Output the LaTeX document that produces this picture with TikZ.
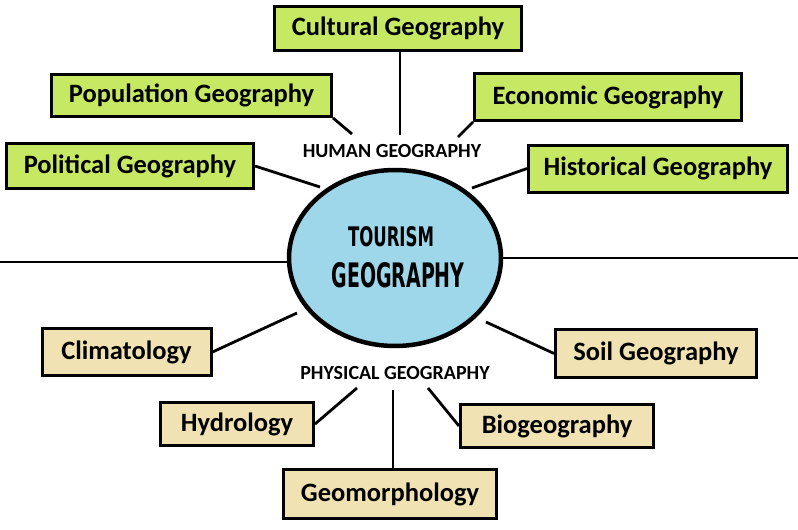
\documentclass[tikz,border=0pt]{standalone}
\usepackage{fontspec}
\setmainfont{Carlito}
\newfontfamily\condfont{DejaVu Sans Condensed}
\usetikzlibrary{shapes.geometric}
\definecolor{humangreen}{RGB}{198,232,98}
\definecolor{phystan}{RGB}{240,226,178}
\definecolor{centreblue}{RGB}{157,215,233}
\tikzset{
  box/.style={draw=black, line width=3pt, inner sep=0pt, align=center,
    font=\fontsize{26.5}{30}\selectfont\bfseries},
  humanbox/.style={box, fill=humangreen},
  physbox/.style={box, fill=phystan},
  link/.style={draw=black, line width=2.8pt},
  grouplabel/.style={font=\fontsize{20}{24}\selectfont\bfseries, inner sep=0pt}
}
\begin{document}
\begin{tikzpicture}[x=1pt,y=-1pt]
\useasboundingbox (0,0) rectangle (798,530);
\fill[white] (0,0) rectangle (798,530);

% centre
\node[ellipse, draw=black, line width=4.5pt, fill=centreblue, minimum width=212pt,
  minimum height=176pt, inner sep=0pt] (ell) at (395,258) {};
\node[inner sep=0pt] (tour) at (391,237) {\resizebox{86pt}{20pt}{\condfont\bfseries TOURISM}};
\node[inner sep=0pt] (geog) at (398,275) {\resizebox{133pt}{25pt}{\condfont\bfseries GEOGRAPHY}};

% group labels
\node[grouplabel] (human) at (392,151) {HUMAN GEOGRAPHY};
\node[grouplabel] (phys) at (395,373) {PHYSICAL GEOGRAPHY};

% human boxes
\node[humanbox, minimum width=247pt, minimum height=44pt] (cult) at (398,28.5) {Cultural Geography};
\node[humanbox, minimum width=280pt, minimum height=42pt] (pop) at (191.5,95.5) {Population Geography};
\node[humanbox, minimum width=267pt, minimum height=47pt] (eco) at (608,97) {Economic Geography};
\node[humanbox, minimum width=247pt, minimum height=45pt] (pol) at (130,166) {Political Geography};
\node[humanbox, minimum width=259pt, minimum height=47pt] (hist) at (658,168.5) {Historical Geography};

% physical boxes
\node[physbox, minimum width=169pt, minimum height=47pt] (clim) at (126.5,352) {Climatology};
\node[physbox, minimum width=201pt, minimum height=48pt] (soil) at (656,353.5) {Soil Geography};
\node[physbox, minimum width=153pt, minimum height=43pt] (hyd) at (237,424) {Hydrology};
\node[physbox, minimum width=193pt, minimum height=43pt] (bio) at (557,426) {Biogeography};
\node[physbox, minimum width=213pt, minimum height=49pt] (geo) at (390,494) {Geomorphology};

% free ends
\coordinate (cC) at (400,135);
\coordinate (cP) at (352,134);
\coordinate (cE) at (458,137);
\coordinate (cPo) at (320,187);
\coordinate (cH) at (472,188);
\coordinate (cCl) at (297,313);
\coordinate (cS) at (486,322);
\coordinate (cHy) at (357,388);
\coordinate (cB) at (428,388);
\coordinate (cG) at (393,390);
\coordinate (lineL) at (0,262);
\coordinate (lineR) at (798,258);

% connectors
\draw[link] (cC |- cult.south) -- (cC);
\draw[link] (pop.south east) -- (cP);
\draw[link] (eco.south west) -- (cE);
\draw[link] (pol.east) -- (cPo);
\draw[link] (hist.west) -- (cH);
\draw[link] (clim.east) -- (cCl);
\draw[link] (soil.west) -- (cS);
\draw[link] (hyd.east) -- (cHy);
\draw[link] (bio.west) -- (cB);
\draw[link] (cG |- geo.north) -- (cG);
\draw[link] (lineL) -- (ell.west |- lineL);
\draw[link] (ell.east) -- (lineR);
\end{tikzpicture}
\end{document}
